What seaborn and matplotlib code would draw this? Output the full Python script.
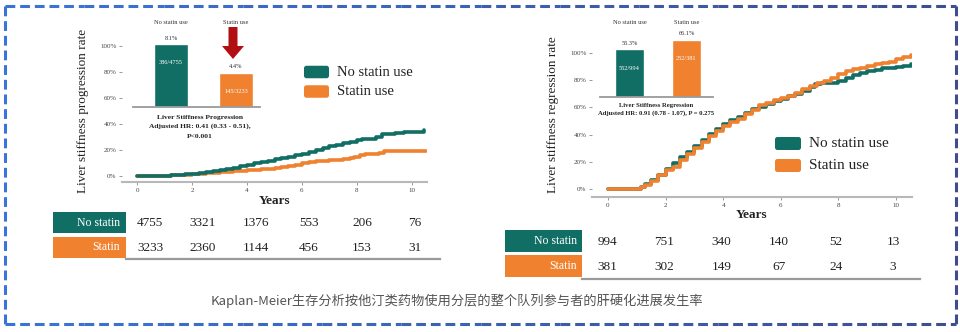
import numpy as np
import pandas as pd
import seaborn as sns
import matplotlib
matplotlib.use("Agg")
import matplotlib.pyplot as plt
from matplotlib.patches import FancyBboxPatch, Rectangle, FancyArrow

# ---------------- data ----------------
groups = ["No statin use", "Statin use"]
row_labels = ["No statin", "Statin"]

# Left panel: liver stiffness progression (cumulative incidence)
prog_t_no = [0, 0.9, 1.0, 1.25, 1.5, 1.75, 2.0, 2.25, 2.5, 2.75, 3.0, 3.25, 3.5, 3.75, 4.0, 4.25,
             4.5, 4.75, 5.0, 5.25, 5.5, 5.75, 6.0, 6.25, 6.5, 6.75, 7.0, 7.25, 7.5, 7.75, 8.0,
             8.2, 8.5, 8.7, 8.9, 9.1, 9.4, 9.7, 10.0, 10.3, 10.45]
prog_v_no = [0, 0, 0.002, 0.006, 0.010, 0.014, 0.019, 0.024, 0.030, 0.036, 0.043, 0.052, 0.063,
             0.075, 0.087, 0.097, 0.108, 0.118, 0.129, 0.140, 0.150, 0.160, 0.170, 0.183, 0.198,
             0.212, 0.228, 0.240, 0.252, 0.265, 0.275, 0.285, 0.285, 0.300, 0.320, 0.325, 0.330,
             0.338, 0.340, 0.342, 0.352]
prog_t_st = [0, 1.0, 1.25, 1.5, 1.75, 2.0, 2.25, 2.5, 2.75, 3.0, 3.25, 3.5, 3.75, 4.0, 4.25, 4.5,
             4.75, 5.0, 5.25, 5.5, 5.75, 6.0, 6.25, 6.5, 6.75, 7.0, 7.25, 7.5, 7.75, 7.9, 8.1,
             8.3, 8.6, 8.8, 9.0, 9.5, 10.0, 10.5]
prog_v_st = [0, 0.001, 0.004, 0.007, 0.011, 0.015, 0.019, 0.023, 0.027, 0.031, 0.034, 0.037,
             0.040, 0.043, 0.047, 0.052, 0.057, 0.062, 0.068, 0.075, 0.085, 0.097, 0.105, 0.112,
             0.118, 0.124, 0.127, 0.128, 0.135, 0.145, 0.165, 0.168, 0.168, 0.180, 0.195, 0.196,
             0.196, 0.196]

# Right panel: liver stiffness regression (cumulative incidence)
reg_t_no = [0, 1.05, 1.15, 1.3, 1.5, 1.75, 2.0, 2.25, 2.5, 2.75, 3.0, 3.25, 3.5, 3.75, 4.0, 4.25,
            4.5, 4.75, 5.0, 5.25, 5.5, 5.75, 6.0, 6.25, 6.5, 6.75, 7.0, 7.2, 7.4, 7.6, 7.8, 8.0,
            8.25, 8.5, 8.75, 9.0, 9.25, 9.5, 9.75, 10.0, 10.25, 10.5]
reg_v_no = [0, 0, 0.015, 0.035, 0.065, 0.105, 0.15, 0.19, 0.235, 0.275, 0.315, 0.36, 0.405, 0.44,
            0.475, 0.505, 0.53, 0.56, 0.585, 0.605, 0.625, 0.645, 0.66, 0.68, 0.70, 0.72, 0.75,
            0.77, 0.775, 0.775, 0.775, 0.79, 0.815, 0.835, 0.85, 0.865, 0.875, 0.885, 0.89,
            0.893, 0.905, 0.92]
reg_t_st = [0, 1.05, 1.15, 1.3, 1.5, 1.75, 2.0, 2.25, 2.5, 2.75, 3.0, 3.25, 3.5, 3.75, 4.0, 4.25,
            4.5, 4.75, 5.0, 5.25, 5.5, 5.75, 6.0, 6.25, 6.5, 6.75, 7.0, 7.25, 7.5, 7.75, 8.0,
            8.25, 8.5, 8.75, 9.0, 9.25, 9.5, 9.75, 10.0, 10.25, 10.5]
reg_v_st = [0, 0, 0.012, 0.03, 0.06, 0.10, 0.14, 0.165, 0.215, 0.255, 0.30, 0.345, 0.39, 0.425,
            0.46, 0.49, 0.515, 0.55, 0.58, 0.615, 0.635, 0.655, 0.67, 0.685, 0.705, 0.735, 0.755,
            0.775, 0.79, 0.815, 0.845, 0.865, 0.88, 0.89, 0.905, 0.915, 0.925, 0.935, 0.955,
            0.97, 0.985]

# Inset bars
prog_pct = [8.1, 4.4]
prog_counts = ["386/4755", "145/3233"]
reg_pct = [55.3, 66.1]
reg_counts = ["552/994", "252/381"]

# Numbers at risk
risk_prog_no = [4755, 3321, 1376, 553, 206, 76]
risk_prog_st = [3233, 2360, 1144, 456, 153, 31]
risk_reg_no = [994, 751, 340, 140, 52, 13]
risk_reg_st = [381, 302, 149, 67, 24, 3]

x_ticks = [0, 2, 4, 6, 8, 10]
y_ticks = [0, 0.2, 0.4, 0.6, 0.8, 1.0]
y_ticklabels = ["0%", "20%", "40%", "60%", "80%", "100%"]

caption = "Kaplan-Meier生存分析按他汀类药物使用分层的整个队列参与者的肝硬化进展发生率"

TEAL = "#106e64"
ORANGE = "#f0812f"

# ---------------- setup ----------------
sns.set_theme(style="white")
plt.rcParams["font.family"] = ["Liberation Serif", "DejaVu Serif"]

W, H = 960, 332
fig = plt.figure(figsize=(W / 100, H / 100), dpi=100)
fig.patch.set_facecolor("white")


def add_ax(x0, y0, x1, y1):
    a = fig.add_axes([x0 / W, 1 - y1 / H, (x1 - x0) / W, (y1 - y0) / H])
    a.patch.set_alpha(0)
    return a


# overlay in pixel coordinates
ov = fig.add_axes([0, 0, 1, 1])
ov.set_xlim(0, W)
ov.set_ylim(H, 0)
ov.axis("off")
ov.patch.set_alpha(0)

# dashed border with left->right colour shift
c_left = np.array([0x3a, 0x74, 0xd9]) / 255
c_right = np.array([0x3e, 0x4c, 0x90]) / 255
ov.plot([5, 5], [6, 324], ls=(0, (3.2, 1.6)), lw=2.2, color=c_left)
ov.plot([956, 956], [6, 324], ls=(0, (3.2, 1.6)), lw=2.2, color=c_right)
nseg = 12
xs = np.linspace(5, 956, nseg + 1)
for i in range(nseg):
    f = (i + 0.5) / nseg
    col = c_left * (1 - f) + c_right * f
    for yy in (6, 324):
        ov.plot([xs[i], xs[i + 1]], [yy, yy], ls=(0, (3.2, 1.6)), lw=2.2, color=col)


def style_main(ax, ylim_low):
    ax.set_xlim(-0.55, 10.55)
    ax.set_ylim(ylim_low, 1.05)
    for s in ["left", "top", "right"]:
        ax.spines[s].set_visible(False)
    ax.spines["bottom"].set_color("#b8b8b8")
    ax.spines["bottom"].set_linewidth(1.5)
    ax.set_xticks(x_ticks)
    ax.set_xticklabels([str(v) for v in x_ticks])
    ax.set_yticks(y_ticks)
    ax.set_yticklabels(y_ticklabels)
    ax.tick_params(axis="both", length=2, width=0.6, color="#888888", labelsize=5,
                   labelcolor="#444444", pad=2, left=True, bottom=True)
    ax.set_xlabel("")
    ax.set_ylabel("")
    ax.grid(False)


LW = 2.6
# ---------------- left main ----------------
axL = add_ax(122, 39.5, 427, 182)
sns.lineplot(x=prog_t_st, y=prog_v_st, ax=axL, color=ORANGE, lw=LW, drawstyle="steps-post",
             estimator=None, sort=False)
sns.lineplot(x=prog_t_no, y=prog_v_no, ax=axL, color=TEAL, lw=LW, drawstyle="steps-post",
             estimator=None, sort=False)
style_main(axL, -0.046)

# ---------------- right main ----------------
axR = add_ax(592, 46, 912, 197)
sns.lineplot(x=reg_t_no, y=reg_v_no, ax=axR, color=TEAL, lw=LW, drawstyle="steps-post",
             estimator=None, sort=False)
sns.lineplot(x=reg_t_st, y=reg_v_st, ax=axR, color=ORANGE, lw=LW, drawstyle="steps-post",
             estimator=None, sort=False)
style_main(axR, -0.059)

# y labels and x labels
ov.text(83, 111, "Liver stiffness progression rate", rotation=90, ha="center", va="center",
        fontsize=9.5, color="#222222")
ov.text(553, 115, "Liver stiffness regression rate", rotation=90, ha="center", va="center",
        fontsize=9.5, color="#222222")
ov.text(275, 201, "Years", ha="center", va="center", fontsize=9.5, fontweight="bold", color="#222222")
ov.text(752, 215, "Years", ha="center", va="center", fontsize=9.5, fontweight="bold", color="#222222")


# ---------------- insets ----------------
def inset(x0, x1, ybase, ytop_px, pxper, pct, counts, xlim):
    ax = add_ax(x0, ytop_px, x1, ybase)
    df = pd.DataFrame({"group": groups, "pct": pct})
    sns.barplot(data=df, x="group", y="pct", hue="group", palette=[TEAL, ORANGE],
                width=xlim[2], ax=ax, legend=False, saturation=1)
    ax.set_xlim(xlim[0], xlim[1])
    ax.set_ylim(0, (ybase - ytop_px) / pxper)
    for s in ["left", "top", "right"]:
        ax.spines[s].set_visible(False)
    ax.spines["bottom"].set_color("#9a9a9a")
    ax.spines["bottom"].set_linewidth(1.3)
    ax.set_xticks([])
    ax.set_yticks([])
    ax.set_xlabel("")
    ax.set_ylabel("")
    lab_y = (ybase - 22) / pxper
    for i, g in enumerate(groups):
        ax.text(i, lab_y, g, ha="center", va="center", fontsize=4.6, color="#333333")
        ax.text(i, pct[i] + 6 / pxper, f"{pct[i]}%", ha="center", va="center", fontsize=4.6,
                color="#333333")
        ax.text(i, pct[i] - 19 / pxper, counts[i], ha="center", va="center", fontsize=4.6,
                color="white")
    return ax


insL = inset(133, 260, 107, 15, 63 / 8.1, prog_pct, prog_counts, (-0.585, 1.37, 0.523))
insR = inset(600, 713, 97, 15, 48 / 55.3, reg_pct, reg_counts, (-0.518, 1.465, 0.509))

for k, line in enumerate(["Liver Stiffness Progression", "Adjusted HR: 0.41 (0.33 - 0.51),", "P<0.001"]):
    ov.text(200, 117 + 9.5 * k, line, ha="center", va="center", fontsize=5.4, fontweight="bold",
            color="#222222")
for k, line in enumerate(["Liver Stiffness Regression", "Adjusted HR: 0.91 (0.78 - 1.07), P = 0.275"]):
    ov.text(656, 106 + 7.5 * k, line, ha="center", va="center", fontsize=4.8, fontweight="bold",
            color="#222222")

# red arrow
ov.add_patch(FancyArrow(233, 27, 0, 32, width=9, head_width=22, head_length=13,
                        length_includes_head=True, color="#b10f12", lw=0))


# ---------------- legends ----------------
def legend(x, y_list, size, fs):
    for (y, col, lab) in zip(y_list, [TEAL, ORANGE], groups):
        ov.add_patch(FancyBboxPatch((x, y - size[1] / 2), size[0], size[1],
                                    boxstyle="round,pad=0,rounding_size=2.5",
                                    facecolor=col, edgecolor="none"))
        ov.text(x + size[0] + 8, y, lab, ha="left", va="center", fontsize=fs, color="#222222")


legend(304, [72, 91.5], (25, 12.5), 10.5)
legend(775, [143.5, 165.5], (26, 13), 11)


# ---------------- number at risk tables ----------------
def risk_table(x0, x1, y0, y1, col0, colstep, row0, rows, cell, txt_x):
    ax = add_ax(x0, y0, x1, y1)
    ax.set_xlim((x0 - col0) / colstep, (x1 - col0) / colstep)
    ax.set_ylim((y1 - row0) / 25, (y0 - row0) / 25)
    for s in ["left", "top", "right"]:
        ax.spines[s].set_visible(False)
    ax.spines["bottom"].set_color("#9a9a9a")
    ax.spines["bottom"].set_linewidth(1.6)
    ax.set_xticks([])
    ax.set_yticks([])
    for r, vals in enumerate(rows):
        for c, v in enumerate(vals):
            ax.text(c, r, str(v), ha="center", va="center", fontsize=9.5, color="#222222")
    cx0, cx1, cy = cell
    for r, (col, lab) in enumerate(zip([TEAL, ORANGE], row_labels)):
        ya, yb = cy[r]
        ov.add_patch(Rectangle((cx0, ya), cx1 - cx0, yb - ya, facecolor=col, edgecolor="none"))
        ov.text(txt_x, (ya + yb) / 2, lab, ha="right", va="center", fontsize=8.5, color="white")
    return ax


risk_table(126, 440, 212, 259, 150, 53, 223, [risk_prog_no, risk_prog_st],
           (53, 126, [(212, 233), (237, 258)]), 120)
risk_table(582, 920, 230, 279, 607, 57.2, 242, [risk_reg_no, risk_reg_st],
           (505, 582, [(230, 252), (255, 277)]), 577)

# caption
ov.text(457, 301, caption, ha="center", va="center", fontsize=9.5, color="#555555",
        family=["Noto Sans CJK SC", "DejaVu Sans"])

fig.savefig("out.png", dpi=100, facecolor="white")
